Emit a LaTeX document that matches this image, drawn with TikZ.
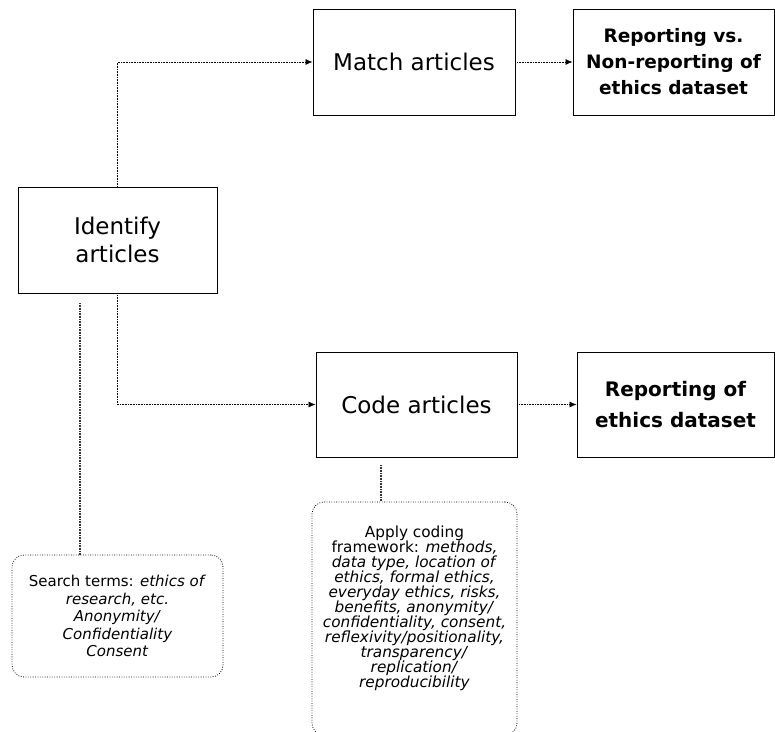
\documentclass[tikz,border=0pt]{standalone}
\usepackage{fontspec}
\setmainfont{DejaVu Sans}
\usetikzlibrary{arrows.meta}
\tikzset{
  box/.style={draw, line width=0.9pt, align=center, inner sep=0pt, text=black},
  mainfont/.style={font=\fontsize{23}{28}\selectfont},
  conn/.style={line width=0.7pt, dash pattern=on 0.7pt off 0.9pt, -{Latex[length=7pt,width=6pt]}},
  stub/.style={line width=1.1pt, dash pattern=on 0.6pt off 1pt, black!80},
  note/.style={draw, rounded corners=12pt, line width=0.8pt, dash pattern=on 0.8pt off 1.6pt, align=center, inner sep=0pt}
}
\begin{document}
\begin{tikzpicture}[x=1pt,y=-1pt]
\useasboundingbox (0,0) rectangle (775,731);
% main boxes
\node[box, mainfont, minimum width=202pt, minimum height=106pt] (match) at (414,62) {Match articles};
\node[box, font=\bfseries\fontsize{18.5}{26}\selectfont, minimum width=201pt, minimum height=106pt] (repvs) at (673.5,62) {Reporting vs.\\Non-reporting of\\ethics dataset};
\node[box, mainfont, minimum width=199pt, minimum height=106pt] (ident) at (117.5,240) {Identify\\articles};
\node[box, mainfont, minimum width=201pt, minimum height=105pt] (code) at (416.5,404.5) {Code articles};
\node[box, font=\bfseries\fontsize{20}{31}\selectfont, minimum width=197pt, minimum height=105pt] (rep) at (675.5,404.5) {Reporting of\\ethics dataset};
% notes
\node[note, minimum width=211pt, minimum height=122pt, font=\fontsize{15}{17.5}\selectfont] (search) at (117.5,616) {Search terms: \textit{ethics of}\\\textit{research, etc.}\\\textit{Anonymity/}\\\textit{Confidentiality}\\\textit{Consent}};
\node[note, minimum width=205pt, minimum height=233pt] (apply) at (414.5,618.5) {};
\node[align=center, inner sep=0pt, font=\fontsize{15.3}{15}\selectfont] (applytext) at (414.5,608.5) {Apply coding\\framework: \textit{methods,}\\\textit{data type, location of}\\\textit{ethics, formal ethics,}\\\textit{everyday ethics, risks,}\\\textit{benefits, anonymity/}\\\textit{confidentiality, consent,}\\\textit{reflexivity/positionality,}\\\textit{transparency/}\\\textit{replication/}\\\textit{reproducibility}};
% connectors
\draw[conn] (ident.north) |- (match.west);
\draw[conn] (match.east) -- (repvs.west);
\draw[conn] (ident.south) |- (code.west);
\draw[conn] (code.east) -- (rep.west);
\coordinate (s1) at (80,303);
\draw[stub] (s1) -- (s1 |- search.north);
\coordinate (c1) at (381,465);
\draw[stub] (c1) -- (c1 |- apply.north);
\end{tikzpicture}
\end{document}
